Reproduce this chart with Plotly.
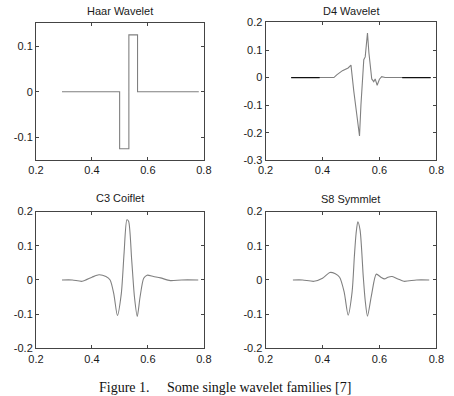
import plotly.graph_objects as go

# ---- data ----
haar_x = [0.293, 0.499, 0.499, 0.532, 0.532, 0.563, 0.563, 0.782]
haar_y = [0, 0, -0.125, -0.125, 0.125, 0.125, 0, 0]

d4_x = [0.29, 0.39, 0.44, 0.45, 0.47, 0.49, 0.50, 0.51, 0.52, 0.53, 0.535, 0.54, 0.545, 0.55,
        0.558, 0.563, 0.568, 0.573, 0.58, 0.585, 0.592, 0.60, 0.608, 0.62, 0.68, 0.78]
d4_y = [0, 0, 0, 0.01, 0.025, 0.035, 0.045, -0.05, -0.13, -0.212, -0.10, 0.01, 0.065, 0.075,
        0.162, 0.09, 0.03, -0.005, -0.015, -0.005, -0.028, -0.006, 0.003, 0, 0, 0]
d4_left_x = [0.29, 0.39]
d4_right_x = [0.68, 0.78]
d4_flat_y = [0, 0]

c3_x = [0.293, 0.33, 0.365, 0.40, 0.425, 0.45, 0.465, 0.478, 0.491, 0.505, 0.515, 0.525, 0.531,
        0.542, 0.552, 0.562, 0.572, 0.585, 0.597, 0.62, 0.645, 0.68, 0.72, 0.78]
c3_y = [0, 0, -0.004, 0.008, 0.015, 0.01, 0.0, -0.04, -0.104, -0.04, 0.08, 0.176, 0.172,
        0.06, -0.05, -0.107, -0.05, 0.005, 0.014, 0.01, 0.006, -0.002, 0, 0]

s8_x = [0.296, 0.33, 0.37, 0.40, 0.426, 0.445, 0.46, 0.476, 0.490, 0.504, 0.512, 0.518, 0.524,
        0.532, 0.543, 0.550, 0.558, 0.572, 0.589, 0.605, 0.618, 0.630, 0.645, 0.665, 0.686, 0.73, 0.775]
s8_y = [0, 0, -0.004, 0.005, 0.022, 0.018, 0.008, -0.035, -0.103, -0.035, 0.07, 0.136, 0.170,
        0.146, 0.012, -0.06, -0.106, -0.045, 0.017, 0.008, 0.003, 0.008, 0.010, 0.003, -0.004, 0, 0]

titles = ["Haar Wavelet", "D4 Wavelet", "C3 Coiflet", "S8 Symmlet"]
x_ticks = [0.2, 0.4, 0.6, 0.8]
x_tick_labels = ["0.2", "0.4", "0.6", "0.8"]
haar_yticks = [-0.1, 0, 0.1]
haar_ylabels = ["-0.1", "0", "0.1"]
d4_yticks = [-0.3, -0.2, -0.1, 0, 0.1, 0.2]
d4_ylabels = ["-0.3", "-0.2", "-0.1", "0", "0.1", "0.2"]
sym_yticks = [-0.2, -0.1, 0, 0.1, 0.2]
sym_ylabels = ["-0.2", "-0.1", "0", "0.1", "0.2"]
caption = "Figure 1.\u00a0\u00a0\u00a0\u00a0 Some single wavelet families [7]"

W, H = 454, 396
LINE = "#808080"
FRAME = "#444444"
TICKFONT = dict(family="Liberation Sans, Arial", size=11, color="#1a1a1a")

fig = go.Figure()

def add(x, y, ax, color=LINE, width=1.1, shape="linear"):
    fig.add_trace(go.Scatter(x=x, y=y, mode="lines", xaxis="x" + ax, yaxis="y" + ax,
                             line=dict(color=color, width=width, shape=shape, smoothing=0.7),
                             showlegend=False, hoverinfo="skip"))

add(haar_x, haar_y, "")
add(d4_x, d4_y, "2")
add(d4_left_x, d4_flat_y, "2", color="#111111", width=1.3)
add(d4_right_x, d4_flat_y, "2", color="#111111", width=1.3)
add(c3_x, c3_y, "3", shape="spline")
add(s8_x, s8_y, "4", shape="spline")

# pixel boxes: (left, right, top, bottom)
boxes = [(29, 203, 18, 159), (267, 444, 17, 159), (29, 203, 212, 353), (267, 444, 212, 353)]
title_y = [5, 5, 198, 199]
yranges = [[-0.15, 0.15], [-0.3, 0.2], [-0.2, 0.2], [-0.2, 0.2]]
yticks = [(haar_yticks, haar_ylabels), (d4_yticks, d4_ylabels),
          (sym_yticks, sym_ylabels), (sym_yticks, sym_ylabels)]

layout = dict(width=W, height=H, margin=dict(l=0, r=0, t=0, b=0),
              paper_bgcolor="white", plot_bgcolor="white")
annotations = []
for i, (l, r, t, b) in enumerate(boxes):
    suf = "" if i == 0 else str(i + 1)
    xd = [l / W, r / W]
    yd = [(H - b) / H, (H - t) / H]
    axcommon = dict(showgrid=False, zeroline=False, showline=True, mirror="allticks",
                    linecolor=FRAME, linewidth=1, ticks="inside", ticklen=3,
                    tickcolor=FRAME, tickfont=TICKFONT)
    layout["xaxis" + suf] = dict(domain=xd, range=[0.2, 0.8], tickvals=x_ticks,
                                 ticktext=x_tick_labels, anchor="y" + suf, **axcommon)
    layout["yaxis" + suf] = dict(domain=yd, range=yranges[i], tickvals=yticks[i][0],
                                 ticktext=yticks[i][1], anchor="x" + suf, **axcommon)
    annotations.append(dict(text=titles[i], x=(l + r) / 2 / W, y=(H - title_y[i]) / H,
                            xref="paper", yref="paper", xanchor="center", yanchor="middle",
                            showarrow=False,
                            font=dict(family="Liberation Sans, Arial", size=11, color="#1a1a1a")))

annotations.append(dict(text=caption, x=225 / W, y=(H - 393) / H, xref="paper", yref="paper",
                        xanchor="center", yanchor="middle", showarrow=False,
                        font=dict(family="Liberation Serif, Times New Roman", size=14,
                                  color="#111111")))
layout["annotations"] = annotations
fig.update_layout(**layout)

fig.write_html("out.html")
